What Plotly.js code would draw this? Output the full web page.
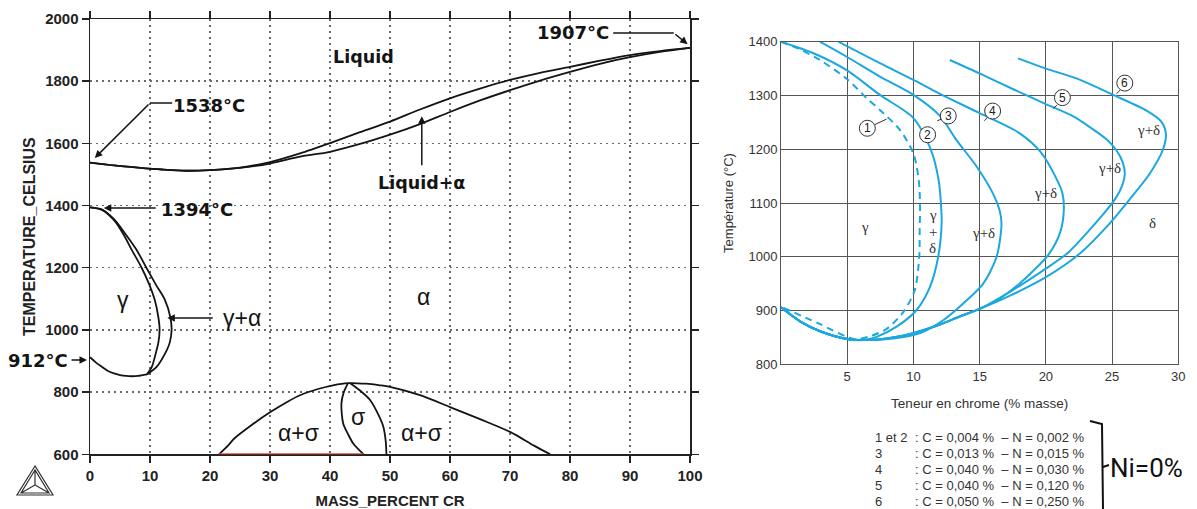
<!DOCTYPE html>
<html>
<head>
<meta charset="utf-8">
<script src="https://cdn.plot.ly/plotly-3.0.1.min.js"></script>
<style>
  html, body { margin: 0; padding: 0; background: #fff; }
  #chart { width: 1197px; height: 509px; }
</style>
</head>
<body>
<div id="chart"></div>
<script>
const W = 1197, H = 509;
const px = v => v / W;          // pixel column -> paper x
const py = v => 1 - v / H;      // pixel row -> paper y

// ---------- Fe–Cr equilibrium diagram ----------
const crLiq   = [0, 4, 8, 12, 16, 20, 25, 30, 35, 40, 45, 50, 55, 60, 65, 70, 75, 80, 85, 90, 95, 100];
const tLiquidus = [1538, 1529, 1522, 1516, 1512, 1514, 1522, 1540, 1568, 1601, 1636, 1670, 1709, 1745, 1776, 1804, 1827, 1846, 1866, 1884, 1897, 1907];
const tSolidus  = [1538, 1529, 1522, 1516, 1512, 1514, 1521, 1535, 1557, 1573, 1598, 1628, 1662, 1701, 1738, 1771, 1802, 1830, 1856, 1877, 1894, 1907];

const crGammaIn  = [0, 2, 4, 5.5, 7, 8.6, 9.8, 10.8, 11.4, 11.6, 11.4, 11.1, 10.3, 9.5];
const tGammaIn   = [1394, 1386, 1353, 1310, 1256, 1200, 1150, 1096, 1040, 1000, 960, 935, 881, 857];
const crGammaOut = [0, 2, 4, 6, 7.8, 9.4, 11, 12.5, 13.4, 13.6, 13.3, 12.8, 11.1, 9.5];
const tGammaOut  = [1394, 1387, 1356, 1306, 1256, 1200, 1145, 1096, 1040, 1000, 960, 935, 881, 857];
const crGammaBase = [0, 1, 2, 3, 4, 5, 6, 7, 8, 9.5];
const tGammaBase  = [912, 895, 881, 868, 860, 855, 852, 851, 852, 857];

const crSigmaDome = [21.5, 23, 24, 27, 30, 33, 35, 38, 40.5, 43, 46, 48.3, 50, 55, 60, 65, 70, 74, 76.7];
const tSigmaDome  = [600, 628, 650, 695, 735, 770, 790, 810, 822, 829, 827, 822, 817, 790, 752, 713, 672, 628, 600];
const crSigmaLeft  = [43, 42.3, 41.9, 42.2, 43.0, 43.9, 45.6];
const tSigmaLeft   = [829, 800, 763, 699, 665, 634, 600];
const crSigmaRight = [43.3, 45, 46.7, 48, 48.9, 49.3, 49.4];
const tSigmaRight  = [829, 805, 774, 730, 688, 640, 600];
const crSigmaBase = [21.5, 45.6];
const tSigmaBase  = [600, 600];

const crTicks = [0, 10, 20, 30, 40, 50, 60, 70, 80, 90, 100];
const tTicks  = [600, 800, 1000, 1200, 1400, 1600, 1800, 2000];

// ---------- gamma loop vs C + N content ----------
const loop1Cr = [0, 1.5, 2.94, 4.96, 6.47, 7.47, 8.98, 10, 10.4, 10.5, 10.47, 10.44, 10.1, 9.23, 7.98, 6.7, 5.5, 2.75, 0];
const loop1T  = [1400, 1385, 1366, 1331, 1295, 1273, 1236, 1192, 1143, 1093, 1050, 1000, 938, 897, 866, 852, 847, 877, 907];
const loop2Cr = [0, 2.5, 4.96, 7.47, 10, 11.3, 11.9, 12.1, 12.13, 11.87, 11.25, 10.24, 8.73, 7.22, 6.2, 5, 3, 1.5, 0];
const loop2T  = [1400, 1378, 1347, 1301, 1258, 1200, 1143, 1090, 1062, 1000, 944, 901, 870, 851, 845, 847, 861, 879, 906];
const loop3Cr = [2.94, 4.96, 7.47, 10, 12, 13.25, 14.77, 16, 16.5, 16.65, 16.28, 15.27, 13.76, 12.25, 10.5, 8.48, 6.2, 5, 3, 1.5, 0];
const loop3T  = [1400, 1372, 1335, 1301, 1262, 1217, 1168, 1118, 1087, 1062, 1000, 950, 913, 882, 858, 848, 845, 847, 861, 879, 906];
const loop4Cr = [4.33, 7.47, 10, 12, 15, 18, 19.6, 20.7, 21.25, 21.35, 21.06, 20.2, 19.3, 18, 16.5, 15, 13.5, 12, 10, 8, 6.2, 5, 3, 1.5, 0];
const loop4T  = [1400, 1360, 1329, 1303, 1267, 1230, 1195, 1150, 1118, 1084, 1044, 1004, 980, 950, 922, 903, 889, 874, 858, 848, 845, 847, 861, 879, 906];
const loop5Cr = [12.75, 15, 17.5, 20, 22.07, 23.5, 24.6, 25.3, 25.8, 25.96, 25.75, 25.3, 24.6, 23.3, 21.6, 20, 17.5, 15, 13.5, 12, 10, 8, 6.2, 5, 3, 1.5, 0];
const loop5T  = [1366, 1341, 1312, 1284, 1261, 1238, 1218, 1199, 1176, 1155, 1132, 1110, 1087, 1050, 1006, 978, 938, 903, 889, 874, 858, 848, 845, 847, 861, 879, 906];
const loop6Cr = [17.9, 20, 22.5, 25, 27.6, 28.7, 29.06, 28.85, 27.85, 26.3, 24.6, 22.57, 20, 17.5, 15, 13.5, 12, 10, 8, 6.2, 5, 3, 1.5, 0];
const loop6T  = [1369, 1350, 1330, 1302, 1272, 1252, 1230, 1200, 1155, 1106, 1056, 1006, 962, 930, 903, 889, 874, 858, 848, 845, 847, 861, 879, 906];

const loopCrTicks = [5, 10, 15, 20, 25, 30];
const loopTTicks  = [800, 900, 1000, 1100, 1200, 1300, 1400];

const legendKeys = ['1 et 2', '3', '4', '5', '6'];
const legendC    = ['0,004', '0,013', '0,040', '0,040', '0,050'];
const legendN    = ['0,002', '0,015', '0,030', '0,120', '0,250'];

// ---------- traces ----------
const ink = '#141414';
const blue = '#1ba7df';

function phaseLine(x, y, color, width) {
  return { x, y, xaxis: 'x', yaxis: 'y', mode: 'lines', hoverinfo: 'skip',
           line: { color: color || ink, width: width || 1.8, shape: 'spline', smoothing: 0.8 } };
}
function loopLine(x, y, dash) {
  return { x, y, xaxis: 'x2', yaxis: 'y2', mode: 'lines', hoverinfo: 'skip',
           line: { color: blue, width: 2, shape: 'spline', smoothing: 0.8, dash: dash || 'solid' } };
}

const traces = [
  phaseLine(crLiq, tLiquidus),
  phaseLine(crLiq, tSolidus),
  phaseLine(crGammaIn, tGammaIn),
  phaseLine(crGammaOut, tGammaOut),
  phaseLine(crGammaBase, tGammaBase),
  phaseLine(crSigmaDome, tSigmaDome),
  phaseLine(crSigmaLeft, tSigmaLeft),
  phaseLine(crSigmaRight, tSigmaRight),
  Object.assign(phaseLine(crSigmaBase, tSigmaBase, '#ee4b4b', 2), { cliponaxis: false }),
  loopLine(loop1Cr, loop1T, '7px,5px'),
  loopLine(loop2Cr, loop2T),
  loopLine(loop3Cr, loop3T),
  loopLine(loop4Cr, loop4T),
  loopLine(loop5Cr, loop5T),
  loopLine(loop6Cr, loop6T)
];

// ---------- annotations ----------
const boldSans = { family: 'DejaVu Sans', size: 17.5, color: ink, weight: 'bold' };
const callout = { family: 'DejaVu Sans', size: 18, color: ink, weight: 'bold' };
const greek = { family: 'Liberation Sans', size: 23, color: ink };
const serif = { family: 'Liberation Serif', size: 15, color: '#333' };

function lbl(x, y, text, font, extra) {
  return Object.assign({ x, y, xref: 'x', yref: 'y', text, showarrow: false, font }, extra || {});
}
function arrow(x, y, ax, ay) {
  return { x, y, ax, ay, xref: 'x', yref: 'y', axref: 'x', ayref: 'y', text: '',
           showarrow: true, arrowhead: 2, arrowsize: 1, arrowwidth: 1.5, arrowcolor: ink };
}
function lbl2(x, y, text, font) {
  return { x, y, xref: 'x2', yref: 'y2', text, showarrow: false, font: font || serif };
}

const annotations = [
  lbl(45.5, 1878, 'Liquid', boldSans),
  lbl(55.3, 1473, 'Liquid+α', boldSans),
  arrow(55.3, 1687, 55.3, 1525),
  lbl(19.8, 1723, '1538°C', callout),
  arrow(0.8, 1553, 10, 1730),
  lbl(17.8, 1386, '1394°C', callout),
  arrow(2.3, 1392, 11.2, 1392),
  lbl(80.5, 1955, '1907°C', callout),
  arrow(99.6, 1919, 97.3, 1955),
  // the 912 °C callout sits left of the axis, so it is placed on the page
  { xref: 'paper', yref: 'paper', x: px(38), y: py(360), xanchor: 'center', yanchor: 'middle',
    text: '912°C', showarrow: false, font: callout },
  { xref: 'x', yref: 'y', axref: 'pixel', ayref: 'pixel', x: 0, y: 903, ax: -20, ay: 0, standoff: 3,
    text: '', showarrow: true, arrowhead: 2, arrowsize: 1, arrowwidth: 1.5, arrowcolor: ink },
  lbl(5.5, 1096, 'γ', greek),
  lbl(25.3, 1038, 'γ+α', greek),
  arrow(12.9, 1038, 20.7, 1038),
  lbl(55.5, 1106, 'α', greek),
  lbl(34.7, 668, 'α+σ', greek),
  lbl(44.7, 720, 'σ', greek),
  lbl(55.2, 668, 'α+σ', greek),

  lbl2(6.34, 1056, 'γ'),
  lbl2(11.45, 1078, 'γ'),
  lbl2(11.45, 1047, '+'),
  lbl2(11.45, 1016, 'δ'),
  lbl2(15.3, 1044, 'γ+δ'),
  lbl2(20.0, 1118, 'γ+δ'),
  lbl2(24.8, 1165, 'γ+δ'),
  lbl2(27.75, 1236, 'γ+δ'),
  lbl2(28.05, 1063, 'δ')
];

// numbered curve markers
const markerPos = [[6.52, 1239], [11.07, 1227], [12.63, 1262], [15.98, 1271], [21.25, 1296], [25.96, 1323]];
const markerLbl = ['1', '2', '3', '4', '5', '6'];
const shapes = [];
markerPos.forEach((p, i) => {
  shapes.push({ type: 'circle', xref: 'x2', yref: 'y2', xsizemode: 'pixel', ysizemode: 'pixel',
                xanchor: p[0], yanchor: p[1], x0: -8, x1: 8, y0: -8, y1: 8,
                line: { color: '#333', width: 1 }, fillcolor: '#fff', layer: 'above' });
  annotations.push({ x: p[0], y: p[1], xref: 'x2', yref: 'y2', text: markerLbl[i], showarrow: false,
                     font: { family: 'Liberation Sans', size: 12, color: '#222' } });
});
// short leaders from markers to their curves
[[[7.1, 1246], [7.97, 1256]], [[12.13, 1256], [11.8, 1253]], [[15.6, 1259], [15.35, 1253]],
 [[20.85, 1282], [20.55, 1276]], [[25.6, 1310], [25.33, 1303]]].forEach(s => {
  shapes.push({ type: 'line', xref: 'x2', yref: 'y2', x0: s[0][0], y0: s[0][1], x1: s[1][0], y1: s[1][1],
                line: { color: '#333', width: 1 } });
});

// bent leader segments of the melting point callouts
shapes.push({ type: 'line', xref: 'x', yref: 'y', x0: 13.7, y0: 1730, x1: 10, y1: 1730, line: { color: ink, width: 1.5 } });
shapes.push({ type: 'line', xref: 'x', yref: 'y', x0: 87.2, y0: 1955, x1: 97.3, y1: 1955, line: { color: ink, width: 1.5 } });

// Thermo-Calc style logo
const logo = `M ${px(35)},${py(466)} L ${px(17)},${py(495)} L ${px(53)},${py(495)} Z ` +
             `M ${px(35)},${py(470)} L ${px(21)},${py(493)} L ${px(49)},${py(493)} Z ` +
             `M ${px(35)},${py(470)} L ${px(35)},${py(485)} M ${px(21)},${py(493)} L ${px(35)},${py(485)} ` +
             `M ${px(49)},${py(493)} L ${px(35)},${py(485)}`;
shapes.push({ type: 'path', xref: 'paper', yref: 'paper', path: logo, line: { color: '#333', width: 1.2 } });

// composition legend
const legFont = { family: 'Liberation Sans', size: 13, color: '#333' };
legendKeys.forEach((k, i) => {
  const y = py(437 + 16 * i);
  annotations.push({ xref: 'paper', yref: 'paper', x: px(873), y, xanchor: 'left', yanchor: 'middle',
                     text: k, showarrow: false, font: legFont });
  annotations.push({ xref: 'paper', yref: 'paper', x: px(913), y, xanchor: 'left', yanchor: 'middle',
                     text: ': C = ' + legendC[i] + ' %  – N = ' + legendN[i] + ' %', showarrow: false, font: legFont });
});
shapes.push({ type: 'path', xref: 'paper', yref: 'paper',
              path: `M ${px(1090)},${py(421)} L ${px(1102)},${py(424)} L ${px(1103)},${py(509)} M ${px(1103)},${py(467)} L ${px(1109)},${py(465)}`,
              line: { color: '#111', width: 2 } });
annotations.push({ xref: 'paper', yref: 'paper', x: px(1108), y: py(468), xanchor: 'left', yanchor: 'middle',
                   text: 'Ni=0%', showarrow: false, font: { family: 'Roboto', size: 26, color: '#111' } });

// ---------- axes ----------
const tickBold = { family: 'Liberation Sans', size: 15, color: '#222', weight: 'bold' };
const leftAxis = {
  showline: true, linecolor: '#222', linewidth: 1.5, mirror: 'ticks',
  ticks: 'outside', ticklen: 7, tickwidth: 1.5, tickcolor: '#222',
  showgrid: true, gridcolor: '#6a6a6a', gridwidth: 1.5, griddash: '1.5px,4.5px',
  zeroline: false, tickfont: tickBold, layer: 'below traces'
};
const rightAxis = {
  showline: true, linecolor: '#555', linewidth: 1, mirror: true,
  ticks: '', showgrid: true, gridcolor: '#555', gridwidth: 1, zeroline: false,
  tickfont: { family: 'Liberation Sans', size: 13, color: '#333' }
};

const layout = {
  width: W, height: H,
  margin: { l: 0, r: 0, t: 0, b: 0 },
  paper_bgcolor: '#fff', plot_bgcolor: '#fff',
  showlegend: false,
  xaxis: Object.assign({}, leftAxis, {
    domain: [px(90), px(690)], range: [0, 100], tickvals: crTicks, anchor: 'y',
    title: { text: 'MASS_PERCENT CR', standoff: 12,
             font: { family: 'Liberation Sans', size: 15, color: '#222', weight: 'bold' } }
  }),
  yaxis: Object.assign({}, leftAxis, {
    domain: [py(454.3), py(19)], range: [600, 2000], tickvals: tTicks, anchor: 'x',
    title: { text: 'TEMPERATURE_CELSIUS', standoff: 5,
             font: { family: 'Liberation Sans', size: 16, color: '#222', weight: 'bold' } }
  }),
  xaxis2: Object.assign({}, rightAxis, {
    domain: [px(781), px(1178.3)], range: [0, 30], tickvals: loopCrTicks, anchor: 'y2',
    title: { text: 'Teneur en chrome (% masse)', standoff: 15,
             font: { family: 'Liberation Sans', size: 13.5, color: '#333' } }
  }),
  yaxis2: Object.assign({}, rightAxis, {
    domain: [py(364.3), py(41.7)], range: [800, 1400], tickvals: loopTTicks, anchor: 'x2',
    title: { text: 'Température (°C)', standoff: 11,
             font: { family: 'Liberation Sans', size: 13, color: '#333' } }
  }),
  annotations, shapes
};

Plotly.newPlot('chart', traces, layout, { displayModeBar: false, staticPlot: true });
</script>
</body>
</html>
